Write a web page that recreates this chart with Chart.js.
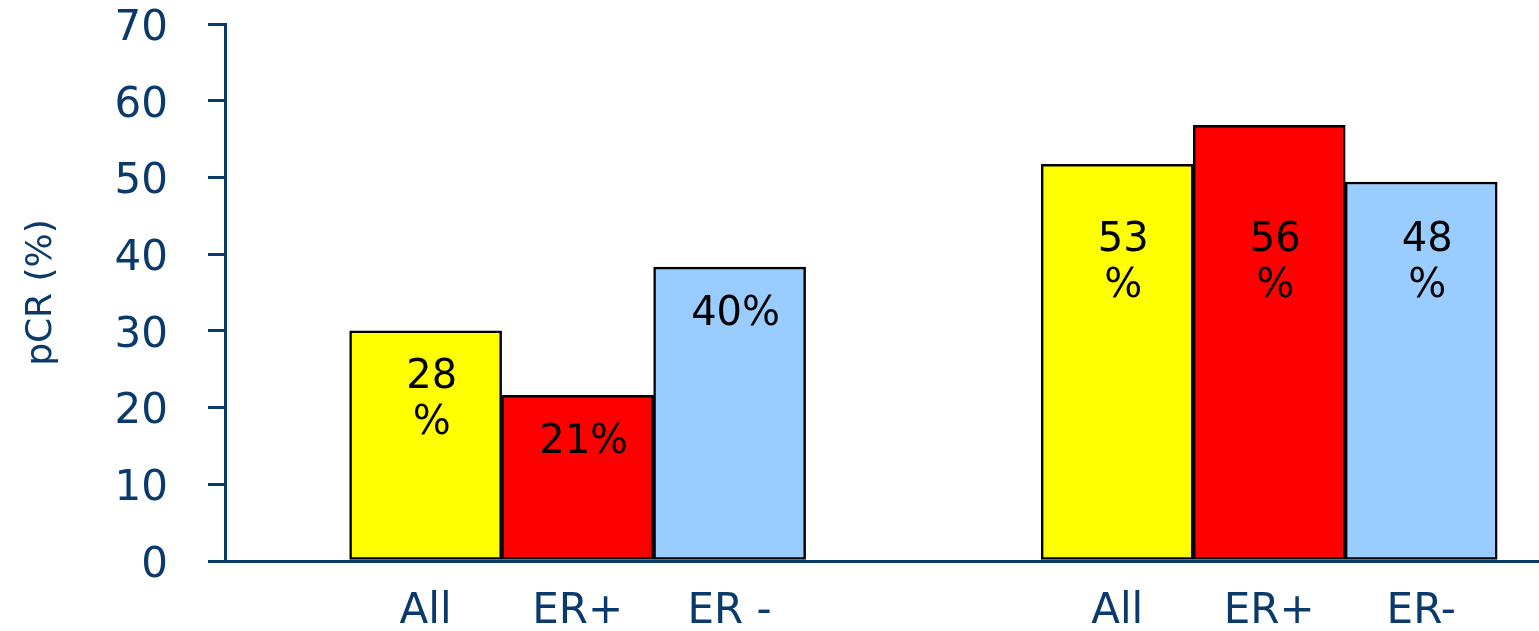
<!DOCTYPE html>
<html>
<head>
<meta charset="utf-8">
<script src="https://cdn.jsdelivr.net/npm/chart.js@4.4.0/dist/chart.umd.min.js"></script>
<style>
  html, body { margin: 0; background: #fff; overflow: hidden; }
  #wrap { width: 1539px; height: 631px; }
</style>
</head>
<body>
<div id="wrap"><canvas id="chart"></canvas></div>
<script>
// data (bar heights in %)
const tickLabels = ["All", "ER+", "ER -", "All", "ER+", "ER-"];
const groupA = [30.0, 21.6, 38.3];
const groupB = [51.7, 56.8, 49.4];
const textA = ["28\n%", "21%", "40%"];
const textB = ["53\n%", "56\n%", "48\n%"];
const yTicks = [0, 10, 20, 30, 40, 50, 60, 70];

const barColors = ["#ffff00", "#ff0000", "#99ccff"];
const NAVY = "#0a3a6b";
const FONT = '"Comic Sans MS", "DejaVu Sans", sans-serif';

// layout in bar-width units
const LEAD = 0.82, STEP = 4.55, X_MAX = 8.645;

const values = groupA.concat(groupB);
const texts = textA.concat(textB);
const xs = values.map((v, k) => LEAD + Math.floor(k / 3) * STEP + (k % 3) + 0.5);
const points = values.map((v, k) => ({ x: xs[k], y: v }));

// the % labels sit a bit under the bar top, but never above the ~42 line
const barText = {
  id: "barText",
  afterDatasetsDraw(chart) {
    const ctx = chart.ctx;
    const y = chart.scales.y;
    const meta = chart.getDatasetMeta(0);
    ctx.save();
    ctx.fillStyle = "#000";
    ctx.font = "40px " + FONT;
    ctx.textAlign = "center";
    ctx.textBaseline = "middle";
    meta.data.forEach((bar, i) => {
      let ty = Math.max(bar.y + 47, y.getPixelForValue(41.7));
      texts[i].split("\n").forEach((line, j) => {
        ctx.fillText(line, bar.x + 6, ty + j * 46);
      });
    });
    ctx.restore();
  }
};

new Chart(document.getElementById("chart"), {
  type: "bar",
  data: {
    datasets: [{
      data: points,
      backgroundColor: values.map((v, k) => barColors[k % 3]),
      borderColor: "#000",
      borderWidth: 2.5,
      borderSkipped: false,
      barPercentage: 1,
      categoryPercentage: 1
    }]
  },
  options: {
    responsive: true,
    maintainAspectRatio: false,
    animation: false,
    layout: { padding: { top: 24, right: 0, left: 0, bottom: 0 } },
    plugins: { legend: { display: false }, tooltip: { enabled: false } },
    scales: {
      x: {
        type: "linear",
        offset: false,
        min: 0,
        max: X_MAX,
        grid: { display: false },
        border: { display: true, color: NAVY, width: 3 },
        afterBuildTicks: (s) => { s.ticks = xs.map(v => ({ value: v })); },
        afterFit: (s) => { s.height = 70; s.paddingLeft = 0; s.paddingRight = 0; },
        ticks: {
          autoSkip: false,
          maxRotation: 0,
          padding: 18,
          color: NAVY,
          font: { size: 42, family: FONT },
          callback: (v, i) => tickLabels[i]
        }
      },
      y: {
        min: 0,
        max: 70,
        afterBuildTicks: (s) => { s.ticks = yTicks.map(v => ({ value: v })); },
        afterFit: (s) => { s.width = 225; s.paddingTop = 0; s.paddingBottom = 0; },
        grid: { drawOnChartArea: false, color: NAVY, lineWidth: 3, tickLength: 17 },
        border: { display: true, color: NAVY, width: 3 },
        ticks: {
          padding: 40,
          labelOffset: 5,
          color: NAVY,
          font: { size: 42, family: FONT }
        },
        title: {
          display: true,
          text: "pCR (%)",
          color: NAVY,
          font: { size: 36, family: FONT },
          padding: { top: 20, bottom: 0 }
        }
      }
    }
  },
  plugins: [barText]
});
</script>
</body>
</html>
